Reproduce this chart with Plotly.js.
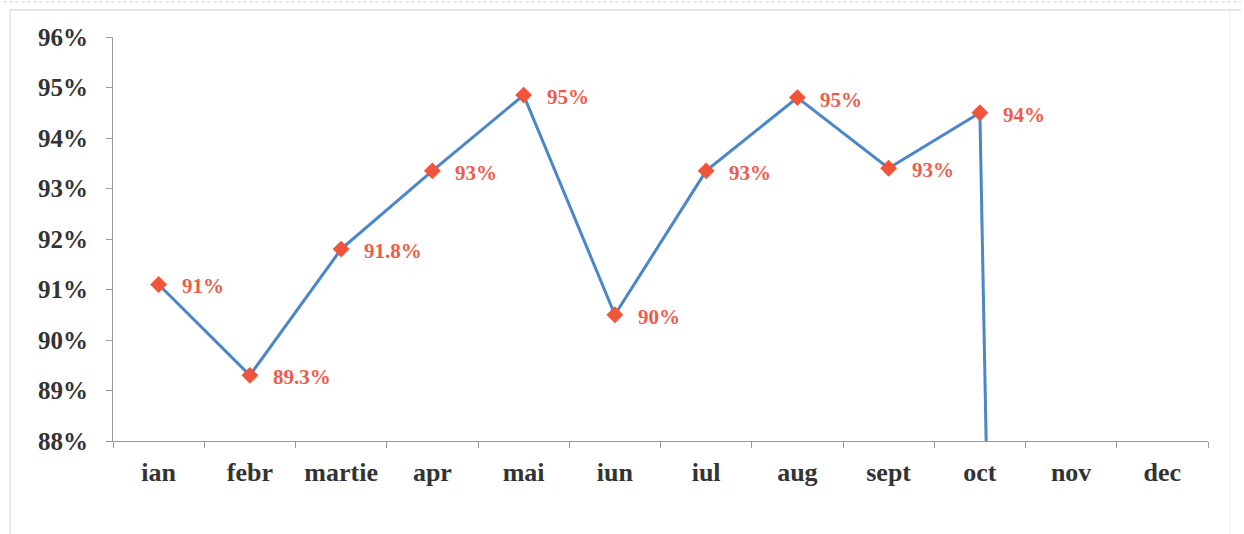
<!DOCTYPE html>
<html>
<head>
<meta charset="utf-8">
<script src="https://cdn.plot.ly/plotly-3.0.1.min.js"></script>
<style>html,body{margin:0;padding:0;background:#fff;}#chart{width:1244px;height:534px;}</style>
</head>
<body>
<div id="chart"></div>
<script>
const months = ["ian","febr","martie","apr","mai","iun","iul","aug","sept","oct","nov","dec"];
const values = [91.1, 89.3, 91.8, 93.35, 94.85, 90.5, 93.35, 94.8, 93.4, 94.5, 0, null];
const labels = ["91%","89.3%","91.8%","93%","95%","90%","93%","95%","93%","94%","",""];
const yTicks = [88, 89, 90, 91, 92, 93, 94, 95, 96];
const yTickText = yTicks.map(v => v + "%");

const serif = "Liberation Serif, Times New Roman, serif";
const trace = {
  x: months, y: values, type: "scatter", mode: "lines+markers",
  line: {color: "#4a86c8", width: 3},
  marker: {symbol: "diamond", size: 13, color: "#f0553c"},
  cliponaxis: true, hoverinfo: "none"
};
const annotations = [];
months.forEach((m, i) => {
  if (labels[i] && values[i] !== null) {
    annotations.push({x: m, y: values[i], xref: "x", yref: "y", text: "<b>" + labels[i] + "</b>",
      showarrow: false, xanchor: "left", yanchor: "middle", xshift: 21, yshift: -2,
      font: {family: serif, size: 21, color: "#ef5b4b"}});
  }
});
const layout = {
  width: 1244, height: 534,
  margin: {l: 113, r: 36, t: 37, b: 93},
  paper_bgcolor: "#ffffff", plot_bgcolor: "#ffffff",
  showlegend: false,
  xaxis: {type: "category", categoryorder: "array", categoryarray: months, range: [-0.5, 11.5],
    showgrid: false, zeroline: false, showline: true, linecolor: "#9a9a9a", linewidth: 1,
    ticks: "outside", tickson: "boundaries", ticklen: 6, tickcolor: "#9a9a9a",
    ticklabelstandoff: 8,
    tickfont: {family: serif, size: 26, color: "#333333", weight: "bold"}},
  yaxis: {range: [88, 96], tickvals: yTicks, ticktext: yTickText,
    showgrid: false, zeroline: false, showline: true, linecolor: "#9a9a9a", linewidth: 1,
    ticks: "outside", ticklen: 6, tickcolor: "#9a9a9a", ticklabelstandoff: 13,
    tickfont: {family: serif, size: 25, color: "#333333", weight: "bold"}},
  annotations: annotations,
  shapes: [
    {type: "line", xref: "paper", yref: "paper", x0: -0.094, x1: 1.03, y0: 1.067, y1: 1.067, line: {color: "#cccccc", width: 1}},
    {type: "line", xref: "paper", yref: "paper", x0: -0.1, x1: 1.03, y0: 1.087, y1: 1.087, line: {color: "#cccccc", width: 1, dash: "dot"}},
    {type: "line", xref: "paper", yref: "paper", x0: -0.094, x1: -0.094, y0: -0.25, y1: 1.067, line: {color: "#d6d6d6", width: 1}},
    {type: "line", xref: "paper", yref: "paper", x0: 1.02, x1: 1.02, y0: -0.25, y1: 1.067, line: {color: "#eeeeee", width: 1}}
  ]
};
Plotly.newPlot("chart", [trace], layout, {displayModeBar: false, staticPlot: true});
</script>
</body>
</html>
